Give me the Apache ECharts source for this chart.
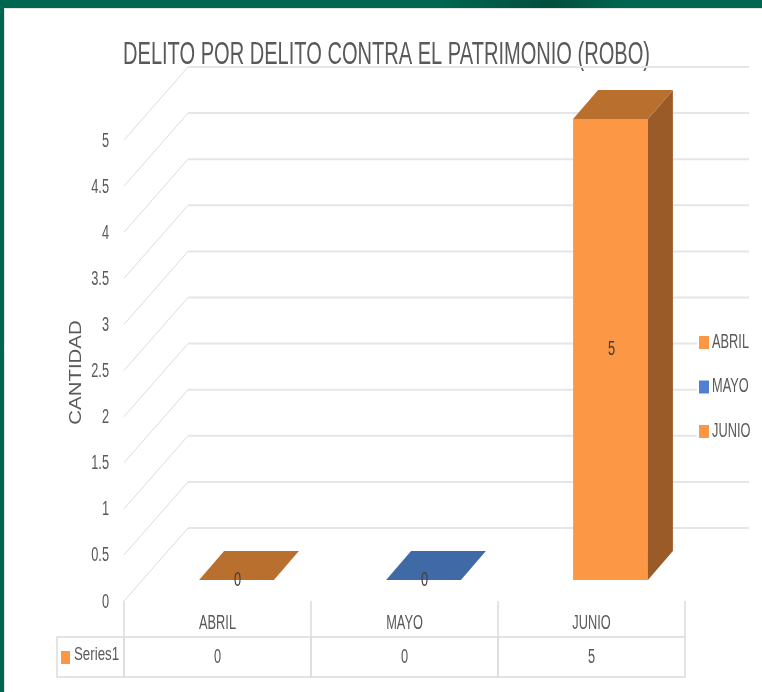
<!DOCTYPE html>
<html>
<head>
<meta charset="utf-8">
<title>Delito contra el patrimonio</title>
<style>
html,body{margin:0;padding:0;background:#fff;}
#main{width:762px;height:692px;}
</style>
<script src="https://cdn.jsdelivr.net/npm/echarts@6/dist/echarts.min.js"></script>
</head>
<body>
<div id="main"></div>
<script>
var categories = ['ABRIL', 'MAYO', 'JUNIO'];
var values = [0, 0, 5];
var yTicks = [0, 0.5, 1, 1.5, 2, 2.5, 3, 3.5, 4, 4.5, 5];
var titleText = 'DELITO POR DELITO CONTRA EL PATRIMONIO (ROBO)';
var yName = 'CANTIDAD';
var rowName = 'Series1';

// colores
var frontColors = ['#fb9745', '#4f81d0', '#fb9745'];
var topColors = ['#b9702f', '#3f6aa5', '#b9702f'];
var sideColors = ['#9a5b28', '#2f5585', '#9a5b28'];
var FONT = '"Liberation Sans", sans-serif';
var TXT = '#595959';
var LINE = '#dcdcdc';

// falsa perspectiva 3D
var WALL_DX = 64, WALL_DY = -73;
var BAR_DX = 19, BAR_DY = -21;
var BAR_DEPTH_DX = 25, BAR_DEPTH_DY = -29;

var myChart = echarts.init(document.getElementById('main'));

// texto estrecho, no hay fuente condensada instalada
var narrowText = function (text, x, y, size, align, color, scale) {
    return {
        type: 'text',
        x: x,
        y: y,
        scaleX: scale || 0.64,
        style: {
            text: text,
            x: 0,
            y: 0,
            align: align,
            verticalAlign: 'middle',
            fill: color || TXT,
            font: size + 'px ' + FONT
        },
        z2: 10
    };
};

var renderWall = function (params, api) {
    var t = api.value(0);
    var p = api.coord([0, t]);
    var x0 = params.coordSys.x, x1 = x0 + params.coordSys.width;
    var y = p[1];
    return {
        type: 'group',
        children: [{
            type: 'line',
            shape: {x1: x0, y1: y, x2: x0 + WALL_DX, y2: y + WALL_DY},
            style: {stroke: LINE, lineWidth: 1}
        }, {
            type: 'line',
            shape: {x1: x0 + WALL_DX, y1: y + WALL_DY, x2: x1 + WALL_DX, y2: y + WALL_DY},
            style: {stroke: '#e6e6e6', lineWidth: 2}
        }, narrowText(String(t), x0 - 15, y + 1, 20, 'right')]
    };
};

var renderBar = function (params, api) {
    var i = api.value(0), v = api.value(1);
    var base = api.coord([i, 0]), top = api.coord([i, v]);
    var w = api.size([1, 0])[0] * 0.4;
    var l = base[0] - w / 2 + BAR_DX, r = l + w;
    var yb = base[1] + BAR_DY, yt = top[1] + BAR_DY;
    var children = [];
    if (v > 0) {
        children.push({
            type: 'rect',
            shape: {x: l, y: yt, width: w, height: yb - yt},
            style: {fill: frontColors[i]}
        });
        children.push({
            type: 'polygon',
            shape: {points: [[r, yt], [r + BAR_DEPTH_DX, yt + BAR_DEPTH_DY], [r + BAR_DEPTH_DX, yb + BAR_DEPTH_DY], [r, yb]]},
            style: {fill: sideColors[i]}
        });
    }
    children.push({
        type: 'polygon',
        shape: {points: [[l, yt], [r, yt], [r + BAR_DEPTH_DX, yt + BAR_DEPTH_DY], [l + BAR_DEPTH_DX, yt + BAR_DEPTH_DY]]},
        style: {fill: topColors[i]}
    });
    children.push(narrowText(String(v), l + w / 2 + 1, (yt + yb) / 2, 20, 'center', '#404040'));
    return {type: 'group', children: children};
};

var renderRow = function (params, api) {
    var i = api.value(0);
    var c = api.coord([i, 0]);
    var w = api.size([1, 0])[0];
    return {
        type: 'group',
        children: [{
            type: 'rect',
            shape: {x: c[0] - w / 2, y: c[1] + 36, width: w, height: 40},
            style: {fill: 'none', stroke: LINE, lineWidth: 1.5}
        },
        narrowText(categories[i], c[0], c[1] + 22, 20, 'center'),
        narrowText(String(api.value(1)), c[0], c[1] + 56, 20, 'center')]
    };
};

var barSeries = categories.map(function (name, i) {
    return {
        name: name,
        type: 'custom',
        renderItem: renderBar,
        itemStyle: {color: frontColors[i]},
        encode: {x: 0, y: 1},
        data: [[i, values[i]]],
        z: 5
    };
});

var legendTexts = categories.map(function (name, i) {
    var t = narrowText(name, 712, 342 + i * 44.5, 20, 'left');
    t.z = 6;
    return t;
});

// nombre del eje, girado y algo estirado
var yNameText = narrowText(yName, 76, 372.5, 17, 'center', TXT, 1.2);
yNameText.rotation = Math.PI / 2;

// ancho del titulo medido para que ocupe lo mismo que el original
var ctx = document.createElement('canvas').getContext('2d');
ctx.font = '32px ' + FONT;
var titleScale = 527 / ctx.measureText(titleText).width;

var option = {
    backgroundColor: '#fff',
    animation: false,
    grid: {left: 124, right: 77, top: 140, bottom: 91},
    legend: {
        orient: 'vertical',
        left: 699,
        top: 336,
        padding: 0,
        itemWidth: 10,
        itemHeight: 13,
        itemGap: 31.5,
        icon: 'rect',
        selectedMode: false,
        data: categories,
        formatter: function () { return ''; },
        z: 6
    },
    xAxis: {
        type: 'category',
        data: categories,
        axisLine: {show: false},
        axisTick: {show: true, length: 36, lineStyle: {color: LINE, width: 1.5}},
        axisLabel: {show: false}
    },
    yAxis: {
        type: 'value',
        min: 0,
        max: 5,
        interval: 0.5,
        axisLine: {show: false},
        axisTick: {show: false},
        splitLine: {show: false},
        axisLabel: {show: false}
    },
    graphic: [
        {
            type: 'rect',
            shape: {x: 0, y: 0, width: 762, height: 8},
            style: {
                fill: new echarts.graphic.LinearGradient(0, 0, 1, 0, [
                    {offset: 0, color: '#00664f'},
                    {offset: 0.58, color: '#00664f'},
                    {offset: 0.72, color: '#004f3e'},
                    {offset: 0.82, color: '#00664f'},
                    {offset: 1, color: '#00664f'}
                ])
            }
        },
        {type: 'rect', shape: {x: 0, y: 0, width: 4, height: 692}, style: {fill: '#00654f'}},
        {type: 'line', shape: {x1: 4.5, y1: 8.5, x2: 762, y2: 8.5}, style: {stroke: '#e4e4e4', lineWidth: 1}},
        {type: 'line', shape: {x1: 4.5, y1: 8.5, x2: 4.5, y2: 692}, style: {stroke: '#e4e4e4', lineWidth: 1}},
        // la leyenda tapa las lineas de la pared
        {type: 'rect', z: 3, shape: {x: 697, y: 330, width: 60, height: 112}, style: {fill: '#fff'}},
        {type: 'rect', shape: {x: 57, y: 637, width: 67, height: 40}, style: {fill: 'none', stroke: LINE, lineWidth: 1.5}},
        {type: 'rect', shape: {x: 61, y: 651, width: 9, height: 13}, style: {fill: '#fb9745'}},
        narrowText(rowName, 74, 655, 19, 'left', TXT, 0.7),
        narrowText(titleText, 123, 55, 32, 'left', TXT, titleScale),
        yNameText
    ].concat(legendTexts),
    series: [{
        name: 'pared',
        type: 'custom',
        renderItem: renderWall,
        data: yTicks.map(function (t) { return [t]; }),
        encode: {y: 0},
        z: 1
    }, {
        name: 'tabla',
        type: 'custom',
        renderItem: renderRow,
        data: values.map(function (v, i) { return [i, v]; }),
        encode: {x: 0, y: 1},
        z: 2
    }].concat(barSeries)
};
myChart.setOption(option);
</script>
</body>
</html>
